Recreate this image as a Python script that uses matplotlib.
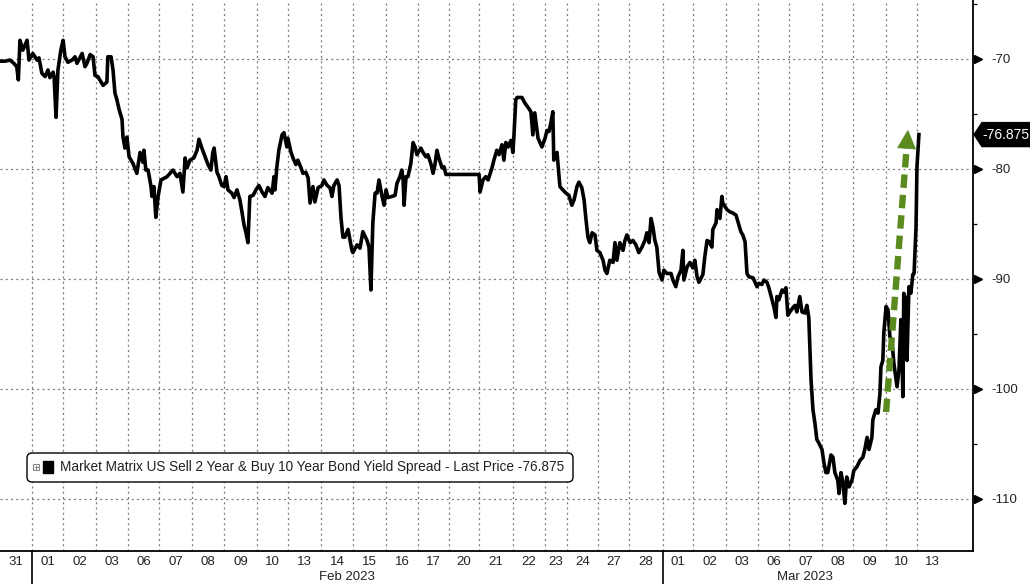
import numpy as np
import matplotlib
matplotlib.use("Agg")
import matplotlib.pyplot as plt
from matplotlib.patches import Polygon, FancyBboxPatch, Rectangle
from matplotlib.lines import Line2D
from matplotlib.transforms import blended_transform_factory

# ---------------- data ----------------
# time in trading-day units since the Jan 31 open
t = [0.00, 0.16, 0.31, 0.43, 0.52, 0.57, 0.62, 0.71, 0.84, 0.90, 1.02, 1.15, 1.21, 1.30, 1.40, 1.49, 1.55, 1.65, 1.68, 1.74,
     1.80, 1.89, 1.96, 2.02, 2.11, 2.24, 2.33, 2.39, 2.55, 2.64, 2.70, 2.80, 2.89, 2.95, 3.04, 3.20, 3.32, 3.35, 3.45, 3.51,
     3.57, 3.63, 3.70, 3.79, 3.82, 3.88, 3.94, 4.01, 4.13, 4.25, 4.35, 4.44, 4.47, 4.53, 4.60, 4.69, 4.72, 4.78, 4.84, 4.91,
     5.00, 5.19, 5.28,
     5.37, 5.50, 5.59, 5.68, 5.75, 5.81, 5.90, 6.02, 6.12, 6.18, 6.27, 6.37, 6.46, 6.55, 6.61, 6.65, 6.74, 6.80, 6.89, 6.96,
     7.02, 7.08, 7.20, 7.27, 7.36, 7.45, 7.52, 7.58, 7.64, 7.70, 7.76, 7.86, 7.95, 8.04, 8.14, 8.23, 8.32, 8.45, 8.51, 8.54,
     8.60, 8.66, 8.76, 8.82, 8.91, 8.94, 9.04, 9.10, 9.19, 9.25, 9.35, 9.41, 9.50, 9.57, 9.63, 9.72, 9.78, 9.88, 10.00, 10.06,
     10.16, 10.25, 10.31, 10.37, 10.47, 10.53, 10.59, 10.65,
     10.71, 10.81, 10.93, 10.96, 11.09, 11.18, 11.27, 11.40, 11.46, 11.52, 11.58, 11.65, 11.71, 11.77, 11.86, 11.93, 11.99,
     12.05, 12.17, 12.27, 12.33, 12.42, 12.48, 12.52, 12.55, 12.61, 12.67, 12.76, 12.83, 12.89, 12.95, 13.07, 13.14, 13.23,
     13.29, 13.39, 13.45, 13.51, 13.57, 13.63, 13.73, 13.79, 13.85, 14.88, 14.91, 15.00, 15.09, 15.16, 15.28, 15.34, 15.43,
     15.50, 15.59, 15.65, 15.71, 15.78, 15.87, 15.93, 15.96, 16.02,
     16.06, 16.21, 16.30, 16.40, 16.49, 16.55, 16.61, 16.71, 16.83, 16.93, 16.99, 17.05, 17.11, 17.17, 17.20, 17.30, 17.39,
     17.48, 17.58, 17.67, 17.76, 17.83, 17.92, 17.98, 18.07, 18.14, 18.20, 18.26, 18.32, 18.39, 18.48, 18.54, 18.63, 18.73,
     18.79, 18.85, 18.94, 19.04, 19.10, 19.16, 19.25, 19.35, 19.41, 19.47, 19.57, 19.66, 19.75, 19.84, 19.94, 20.03, 20.09,
     20.16, 20.22, 20.28, 20.34, 20.40, 20.47, 20.56, 20.62, 20.71, 20.84, 20.90, 20.99, 21.06, 21.15, 21.21, 21.24, 21.34,
     21.43,
     21.52, 21.58, 21.65, 21.71, 21.83, 21.89, 21.96, 22.02, 22.11, 22.14, 22.24, 22.27, 22.36, 22.42, 22.45, 22.58, 22.67,
     22.76, 22.86, 22.92, 23.01, 23.07, 23.14, 23.20, 23.26, 23.39, 23.45, 23.51, 23.57, 23.66, 23.73, 23.82, 23.88, 23.98,
     24.04, 24.10, 24.13, 24.19, 24.29, 24.35, 24.41, 24.47, 24.53, 24.63, 24.69, 24.75, 24.84, 24.91, 25.00, 25.06, 25.12,
     25.19, 25.25, 25.31, 25.37, 25.43, 25.53, 25.59, 25.65, 25.71, 25.81, 25.87, 25.93, 26.02, 26.06, 26.12, 26.18, 26.24,
     26.30, 26.37, 26.46, 26.52, 26.61, 26.71, 26.80, 26.86, 26.93, 26.99, 27.08, 27.11, 27.20, 27.27, 27.33, 27.36, 27.42,
     27.45, 27.52, 27.58, 27.64, 27.70, 27.76, 27.86, 27.92, 27.98, 28.01, 28.04, 28.07, 28.14, 28.17, 28.23, 28.29, 28.35,
     28.39, 28.45, 28.48, 28.54]

spread = [-70.2, -70.2, -70.1, -70.4, -70.7, -71.9, -68.3, -69.2, -68.3, -70.1, -69.5, -70.1, -69.9, -71.3, -71.6, -71.0, -71.7, -71.2, -71.6, -75.3,
          -71.0, -69.2, -68.3, -69.8, -70.3, -70.1, -69.8, -70.4, -69.5, -70.7, -70.4, -69.6, -69.8, -71.5, -71.6, -72.4, -72.1, -69.8, -69.8, -71.0,
          -73.1, -73.7, -74.6, -75.5, -77.1, -78.1, -77.1, -78.9, -79.5, -80.4, -78.5, -79.4, -78.3, -80.1, -80.1, -81.6, -82.5, -81.6, -84.4, -82.5,
          -81.0, -80.7, -80.4,
          -80.1, -80.7, -80.4, -82.1, -79.0, -79.9, -79.2, -79.0, -78.3, -77.3, -78.1, -78.9, -79.6, -80.1, -78.5, -78.1, -80.3, -80.7, -81.5, -81.6,
          -80.7, -81.9, -82.2, -82.6, -81.9, -82.8, -84.0, -85.1, -85.8, -86.7, -82.5, -82.4, -81.9, -81.5, -82.1, -82.5, -81.7, -82.2, -80.7, -81.9,
          -79.8, -78.3, -76.9, -76.7, -78.0, -77.2, -78.5, -79.0, -79.6, -79.2, -79.9, -80.4, -80.3, -80.8, -83.1, -81.6, -83.0, -81.7, -81.5, -81.0,
          -81.5, -81.7, -82.5, -81.5, -81.0, -81.5, -84.4, -86.2,
          -86.2, -85.5, -87.4, -87.6, -86.9, -87.2, -85.7, -86.5, -87.1, -91.0, -84.9, -82.2, -82.2, -81.0, -82.4, -83.3, -81.9,
          -82.6, -82.5, -82.4, -81.3, -80.7, -80.1, -81.0, -83.3, -80.7, -80.7, -79.5, -77.6, -78.0, -78.7, -78.1, -78.5, -78.9,
          -78.7, -79.6, -80.4, -79.6, -78.3, -79.0, -79.9, -79.8, -80.5, -80.5, -82.1, -81.0, -80.7, -81.0, -79.9, -79.2, -78.3,
          -78.7, -77.8, -79.2, -77.6, -78.0, -77.4, -78.5, -77.1, -73.7,
          -73.5, -73.5, -74.0, -74.4, -74.8, -76.9, -74.9, -77.2, -78.0, -77.2, -76.5, -76.6, -75.8, -74.8, -79.2, -78.5, -81.6,
          -81.9, -82.2, -82.4, -83.3, -82.8, -81.6, -81.2, -81.7, -82.8, -84.6, -86.2, -86.7, -85.8, -86.0, -87.4, -87.6, -88.3,
          -89.2, -89.5, -88.3, -88.5, -86.7, -88.3, -86.7, -87.4, -86.5, -86.0, -86.7, -86.5, -86.9, -87.6, -87.1, -86.5, -85.8,
          -86.7, -84.5, -85.3, -86.5, -87.1, -89.4, -90.1, -89.2, -89.5, -89.5, -90.1, -90.7, -89.8, -89.2, -87.4, -90.1, -88.9,
          -88.5,
          -89.0, -88.3, -89.8, -90.3, -89.6, -88.0, -86.5, -86.6, -87.1, -85.5, -84.9, -83.7, -84.5, -82.5, -83.1, -83.7, -83.9,
          -84.0, -84.2, -84.8, -85.7, -86.0, -86.6, -89.5, -89.8, -89.9, -90.3, -90.7, -90.4, -90.5, -90.1, -90.3, -90.8, -91.9,
          -92.6, -93.5, -91.6, -91.9, -91.0, -91.2, -90.8, -93.3, -93.0, -92.6, -92.4, -93.0, -91.6, -93.0, -93.1, -92.4, -93.5,
          -99.2, -101.9, -103.1, -104.6, -104.9, -105.5, -106.7, -107.6, -107.6, -106.0, -106.2, -107.6, -108.3, -109.5, -107.6, -108.5, -110.4,
          -108.0, -108.9, -108.3, -107.4, -107.1, -106.5, -106.2, -105.5, -104.4, -105.5, -104.4, -102.8, -101.9, -102.2, -100.4, -98.0,
          -97.4, -94.9, -92.5, -92.8, -95.3, -95.5, -97.6, -99.8, -98.3, -93.7, -95.5, -100.7, -91.3, -91.9, -97.4, -90.7, -91.3,
          -89.6, -89.5, -85.3, -79.8, -76.875]

# session (day) start positions, in the same trading-day units
session_starts = [0.00, 0.99, 1.96, 2.98, 3.98, 4.94, 5.96, 6.96, 7.98, 8.94, 9.97, 10.96, 11.99, 12.98, 13.94,
                  14.88, 15.93, 16.93, 17.61, 18.57, 19.53, 20.59, 21.52, 22.55, 23.54, 24.50, 25.53, 26.49, 27.52,
                  28.48]
session_end = 29.41
day_labels = ["31", "01", "02", "03", "06", "07", "08", "09", "10", "13", "14", "15", "16", "17", "20",
              "21", "22", "23", "24", "27", "28", "01", "02", "03", "06", "07", "08", "09", "10", "13"]
month_labels = ["Feb 2023", "Mar 2023"]
month_first_session = [1, 21]
month_last_session = [20, 29]

y_major = [-70, -80, -90, -100, -110]
y_minor = [-65, -75, -85, -95, -105]
last_price = -76.875
legend_text = "Market Matrix US Sell 2 Year & Buy 10 Year Bond Yield Spread - Last Price -76.875"

arrow_tail = (27.52, -102.1)
arrow_tip = (28.20, -76.5)

# ---------------- figure ----------------
W, H = 1030, 584
plt.rcParams['font.family'] = ['Liberation Sans', 'DejaVu Sans']
fig = plt.figure(figsize=(W / 100, H / 100), dpi=100)
fig.patch.set_facecolor('white')
ax = fig.add_axes([0, 33 / H, 973 / W, 551 / H])
ax.set_xlim(0, 30.22)
ax.set_ylim(-114.73, -64.64)

for s in ['left', 'top']:
    ax.spines[s].set_visible(False)
for s in ['right', 'bottom']:
    ax.spines[s].set_linewidth(1.3)
    ax.spines[s].set_color('black')

# grid
grid_kw = dict(color='#7a7a7a', lw=0.9, linestyle=(0, (1.6, 2.6)), zorder=1)
for xs in session_starts[1:]:
    ax.axvline(xs, **grid_kw)
for yv in y_major:
    ax.axhline(yv, **grid_kw)

# series
ax.plot(t, spread, color='black', lw=2.6, solid_joinstyle='round', zorder=3)

# x ticks: custom labels
ax.set_xticks([])
bt = blended_transform_factory(ax.transData, ax.transAxes)
bounds = session_starts + [session_end]
for i, lab in enumerate(day_labels):
    mid = 0.5 * (bounds[i] + bounds[i + 1])
    ax.text(mid, -11 / 551, lab, transform=bt, ha='center', va='center', fontsize=9.5, color='#222222')
for m, lab in enumerate(month_labels):
    a = session_starts[month_first_session[m]]
    b = bounds[month_last_session[m] + 1]
    ax.text(0.5 * (a + b), -26.5 / 551, lab, transform=bt, ha='center', va='center', fontsize=9.5, color='#222222')
    ax.add_line(Line2D([a, a], [0, -33 / 551], transform=bt, color='black', lw=1.2, clip_on=False))

# y axis on right
ax.yaxis.tick_right()
ax.set_yticks(y_major)
ax.set_yticks(y_minor, minor=True)
ax.set_yticklabels([str(v) for v in y_major])
ax.tick_params(axis='y', which='major', length=0, pad=13, labelsize=9.5, labelcolor='#222222')
ax.tick_params(axis='y', which='minor', length=3, width=0.9, direction='out', color='black')
bty = blended_transform_factory(ax.transAxes, ax.transData)
ax.plot([1 + 5 / 973] * len(y_major), y_major, linestyle='none', marker='>', markersize=6,
        color='black', transform=bty, clip_on=False, zorder=5)

# last price tag
yd = ax.transData.transform((0, last_price))[1]
xr = ax.transAxes.transform((1, 0))[0]
tag = Polygon([(xr + 1, yd), (xr + 9, yd + 12), (W, yd + 12), (W, yd - 12), (xr + 9, yd - 12)],
              closed=True, transform=None, facecolor='black', edgecolor='black', zorder=6)
fig.add_artist(tag)
fig.text((xr + 8 + W) / 2 / W, yd / H, f"{last_price:.3f}", ha='center', va='center',
         color='white', fontsize=10, zorder=12)

# green dashed arrow
tail_d = ax.transData.transform(arrow_tail)
tip_d = ax.transData.transform(arrow_tip)
d = tip_d - tail_d
u = d / np.hypot(*d)
nrm = np.array([-u[1], u[0]])
head_len, head_half = 18, 9
base_d = tip_d - u * head_len
inv = ax.transData.inverted()
shaft = inv.transform(np.vstack([tail_d, base_d + u * 2]))
green = '#5b8a1e'
ln, = ax.plot(shaft[:, 0], shaft[:, 1], color=green, lw=4.6, solid_capstyle='butt',
              dash_capstyle='butt', zorder=7)
ln.set_dashes([2.1, 1.1])
head = inv.transform(np.vstack([tip_d, base_d + nrm * head_half, base_d - nrm * head_half]))
ax.add_patch(Polygon(head, closed=True, facecolor=green, edgecolor=green, lw=0.5, zorder=7))

# legend box
def px(x, y):
    return (x / 100, (H - y) / 100)

box = FancyBboxPatch(px(27, 482), 546 / 100, 29 / 100, boxstyle="round,pad=0,rounding_size=0.05",
                     transform=fig.dpi_scale_trans, facecolor='white', edgecolor='black', lw=1.0, zorder=8)
fig.add_artist(box)
icon = Rectangle(px(33, 470), 6 / 100, 6 / 100, transform=fig.dpi_scale_trans, facecolor='white',
                 edgecolor='#888888', lw=0.8, zorder=9)
fig.add_artist(icon)
fig.add_artist(Line2D([34.5 / 100, 37.5 / 100], [(H - 467) / 100] * 2, transform=fig.dpi_scale_trans,
                      color='#888888', lw=0.8, zorder=10))
fig.add_artist(Line2D([36 / 100] * 2, [(H - 465.5) / 100, (H - 468.5) / 100], transform=fig.dpi_scale_trans,
                      color='#888888', lw=0.8, zorder=10))
sq = Rectangle(px(43, 473), 10 / 100, 12 / 100, transform=fig.dpi_scale_trans, facecolor='black',
               edgecolor='black', zorder=9)
fig.add_artist(sq)
fig.text(60 / W, 1 - 467.5 / H, legend_text, ha='left', va='center', fontsize=9.8, color='#222222', zorder=10)

fig.savefig('out.png', dpi=100, facecolor='white')
